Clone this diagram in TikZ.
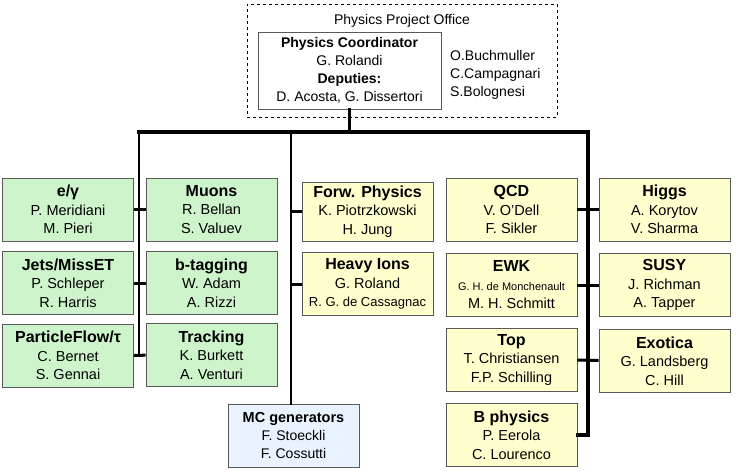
\documentclass[tikz,border=0pt]{standalone}
\usepackage{fontspec}
\setmainfont{Liberation Sans}
\usetikzlibrary{positioning}

\definecolor{wggreen}{RGB}{206,244,204}
\definecolor{wgyellow}{RGB}{255,255,206}
\definecolor{wgblue}{RGB}{232,243,255}
\newcommand{\wg}[1]{{\fontsize{16}{18.5}\selectfont\bfseries #1}}

\begin{document}
\begin{tikzpicture}[
    x=1pt, y=-1pt,
    font=\fontsize{14.5}{18.5}\selectfont,
    box/.style={draw=black!65, line width=0.9pt, align=center, inner sep=0pt,
                minimum width=131pt, minimum height=63pt},
    greenbox/.style={box, fill=wggreen},
    yellowbox/.style={box, fill=wgyellow},
    bluebox/.style={box, fill=wgblue},
    office/.style={draw, dashed, line width=0.6pt, minimum width=310pt, minimum height=113pt},
    coordbox/.style={draw=black!65, line width=0.9pt, fill=white, align=center,
                     minimum width=183pt, minimum height=77pt, inner sep=0pt,
                     font=\fontsize{14}{18}\selectfont},
    bar/.style={line width=3.6pt, line cap=rect},
    spine/.style={line width=2.2pt, line cap=rect},
    stub/.style={line width=3pt},
  ]
  \useasboundingbox (0,0) rectangle (736,475);

  % ---------------- Physics Project Office ----------------
  \node[office] (ppo) at (402,60.5) {};
  \node[font=\fontsize{14}{17}\selectfont] (ppotitle) at (402,21) {Physics Project Office};
  \node[coordbox] (coord) at (349.5,70.5)
       {\textbf{Physics Coordinator}\\G. Rolandi\\\textbf{Deputies:}\\D. Acosta, G. Dissertori};
  \node[anchor=west, align=left, inner sep=0pt, font=\fontsize{14}{18}\selectfont] (office)
       at (450,75) {O.Buchmuller\\C.Campagnari\\S.Bolognesi};

  % ---------------- Left groups ----------------
  \node[greenbox] (egamma)   at (68,209.5)    {\wg{e/γ}\\P. Meridiani\\M. Pieri};
  \node[greenbox] (jets)     at (68,283)      {\wg{Jets/MissET}\\P. Schleper\\R. Harris};
  \node[greenbox] (pflow)    at (68,355.5)    {\wg{ParticleFlow/τ}\\C. Bernet\\S. Gennai};
  \node[greenbox] (muons)    at (211.5,209.5) {\wg{Muons}\\R. Bellan\\S. Valuev};
  \node[greenbox] (btag)     at (211.5,283)   {\wg{b-tagging}\\W. Adam\\A. Rizzi};
  \node[greenbox] (tracking) at (211.5,355)   {\wg{Tracking}\\K. Burkett\\A. Venturi};

  % ---------------- Middle groups ----------------
  \node[yellowbox, minimum height=59pt] (fwd) at (367.5,211.5)
       {\wg{Forw. Physics}\\K. Piotrzkowski\\H. Jung};
  \node[yellowbox] (hions) at (367.5,284)
       {\wg{Heavy Ions}\\G. Roland\\{\fontsize{13}{18.5}\selectfont R. G. de Cassagnac}};
  \node[bluebox, font=\fontsize{14}{18}\selectfont] (mcgen) at (293.5,435.5)
       {{\fontsize{14.5}{18}\selectfont\bfseries MC generators}\\F. Stoeckli\\F. Cossutti};

  % ---------------- Right groups ----------------
  \node[yellowbox] (qcd)     at (511.5,209.5) {\wg{QCD}\\V. O'Dell\\F. Sikler};
  \node[yellowbox] (ewk)     at (511.5,285)
       {\wg{EWK}\\{\fontsize{11}{18.5}\selectfont G. H. de Monchenault}\\M. H. Schmitt};
  \node[yellowbox] (top)     at (511.5,359.5) {\wg{Top}\\T. Christiansen\\F.P. Schilling};
  \node[yellowbox] (bphys)   at (511.5,435)   {\wg{B physics}\\P. Eerola\\C. Lourenco};
  \node[yellowbox] (higgs)   at (664.5,209.5) {\wg{Higgs}\\A. Korytov\\V. Sharma};
  \node[yellowbox] (susy)    at (664.5,285)   {\wg{SUSY}\\J. Richman\\A. Tapper};
  \node[yellowbox] (exotica) at (664.5,361)   {\wg{Exotica}\\G. Landsberg\\C. Hill};

  % ---------------- Tree ----------------
  \coordinate (barL)   at (139,132);
  \coordinate (spineM) at (291,132);
  \coordinate (barR)   at (588,132);

  \draw[bar] (coord.south) -- (coord.south |- barL);
  \draw[bar] (barL) -- (barR) |- (bphys.east);
  \draw[spine] (barL) -- (barL |- pflow.east);
  \draw[spine] (spineM) -- (spineM |- mcgen.north);

  \foreach \a/\b in {egamma/muons, jets/btag, pflow/tracking, qcd/higgs, ewk/susy, top/exotica}
    \draw[stub] (\a) -- (\b);
  \draw[stub] (fwd.west) -- (fwd.west -| spineM);
  \draw[stub] (hions.west) -- (hions.west -| spineM);
\end{tikzpicture}
\end{document}
